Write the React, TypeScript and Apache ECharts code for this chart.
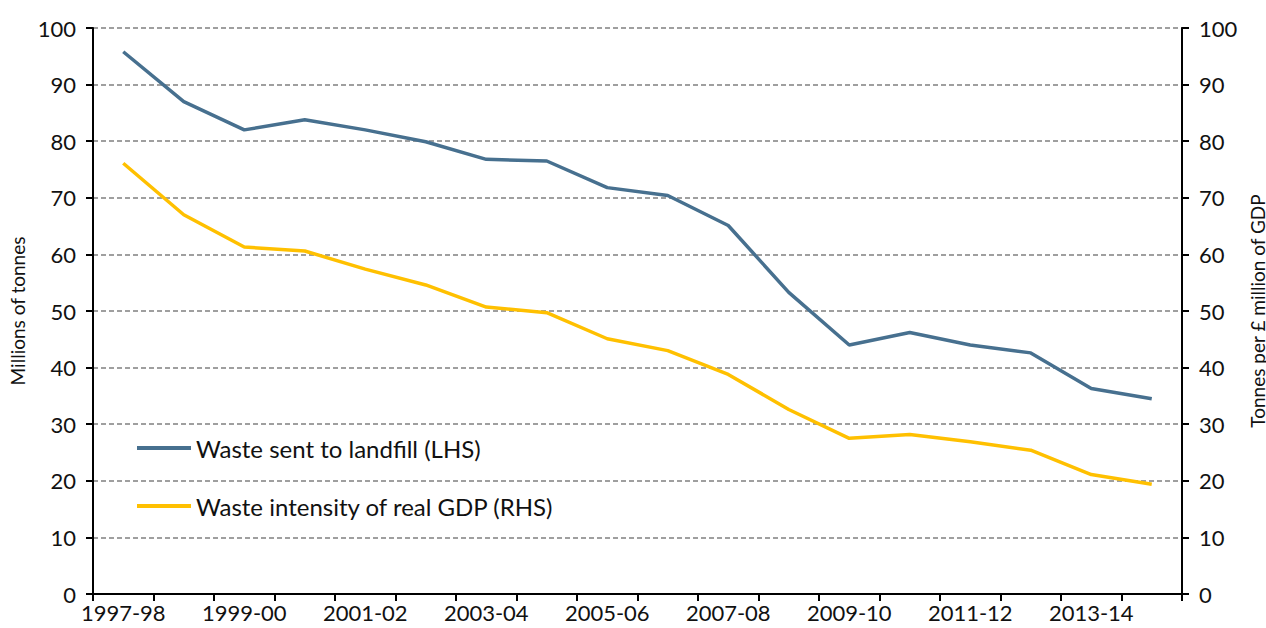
import React, { useEffect, useRef } from "react";
import * as echarts from "echarts";

const categories = [
  "1997-98", "1998-99", "1999-00", "2000-01", "2001-02", "2002-03",
  "2003-04", "2004-05", "2005-06", "2006-07", "2007-08", "2008-09",
  "2009-10", "2010-11", "2011-12", "2012-13", "2013-14", "2014-15",
];

const landfill = [
  95.8, 87.0, 82.0, 83.8, 82.0, 79.9, 76.8, 76.5, 71.8, 70.4,
  65.1, 53.3, 44.0, 46.2, 44.0, 42.6, 36.3, 34.5,
];

const intensity = [
  76.1, 67.0, 61.3, 60.6, 57.4, 54.6, 50.7, 49.7, 45.1, 43.0,
  38.8, 32.6, 27.5, 28.2, 26.9, 25.4, 21.1, 19.4,
];

const seriesNames = ["Waste sent to landfill (LHS)", "Waste intensity of real GDP (RHS)"];
const leftAxisName = "Millions of tonnes";
const rightAxisName = "Tonnes per £ million of GDP";

const FONT = "Lato, 'DejaVu Sans', sans-serif";
const BLUE = "#47708f";
const YELLOW = "#ffc000";

export default function App() {
  const ref = useRef<HTMLDivElement>(null);
  useEffect(() => {
    if (!ref.current) return;
    const chart = echarts.init(ref.current, undefined, { renderer: "svg" });
    const yAxisCommon = {
      type: "value" as const,
      min: 0,
      max: 100,
      interval: 10,
      nameLocation: "middle" as const,
      nameTextStyle: { fontFamily: FONT, fontSize: 19, color: "#111" },
      axisLine: { show: true, lineStyle: { color: "#000", width: 2 } },
      axisTick: { show: true, length: 7, lineStyle: { color: "#000", width: 2 } },
      axisLabel: { fontFamily: FONT, fontSize: 22, color: "#111", margin: 17 },
    };
    chart.setOption({
      animation: false,
      backgroundColor: "#fff",
      grid: { left: 93, right: 84, top: 28, bottom: 34, containLabel: false, outerBoundsMode: "none" },
      legend: {
        show: true,
        orient: "vertical",
        left: 132,
        top: 431,
        icon: "rect",
        itemWidth: 54,
        itemHeight: 4,
        itemGap: 34,
        textStyle: { fontFamily: FONT, fontSize: 24, lineHeight: 24, color: "#111" },
        data: seriesNames,
      },
      xAxis: {
        type: "category",
        data: categories,
        boundaryGap: true,
        axisLine: { lineStyle: { color: "#000", width: 2 } },
        axisTick: { show: true, alignWithLabel: false, interval: 0, length: 7, lineStyle: { color: "#000", width: 2 } },
        axisLabel: { interval: 1, fontFamily: FONT, fontSize: 22, color: "#111", margin: 7 },
        splitLine: { show: false },
      },
      yAxis: [
        {
          ...yAxisCommon,
          position: "left",
          name: leftAxisName,
          nameGap: 66,
          splitLine: { show: true, lineStyle: { color: "#808080", type: [5, 3], width: 1.5 } },
        },
        {
          ...yAxisCommon,
          position: "right",
          name: rightAxisName,
          nameGap: 57,
          splitLine: { show: false },
        },
      ],
      series: [
        {
          name: seriesNames[0],
          type: "line",
          yAxisIndex: 0,
          data: landfill,
          symbol: "none",
          lineStyle: { color: BLUE, width: 3.5 },
          itemStyle: { color: BLUE },
        },
        {
          name: seriesNames[1],
          type: "line",
          yAxisIndex: 1,
          data: intensity,
          symbol: "none",
          lineStyle: { color: YELLOW, width: 3.5 },
          itemStyle: { color: YELLOW },
        },
      ],
    });
    return () => chart.dispose();
  }, []);
  return (
    <div
      ref={ref}
      style={{ position: "fixed", left: 0, top: 0, width: 1266, height: 628, background: "#fff" }}
    />
  );
}
